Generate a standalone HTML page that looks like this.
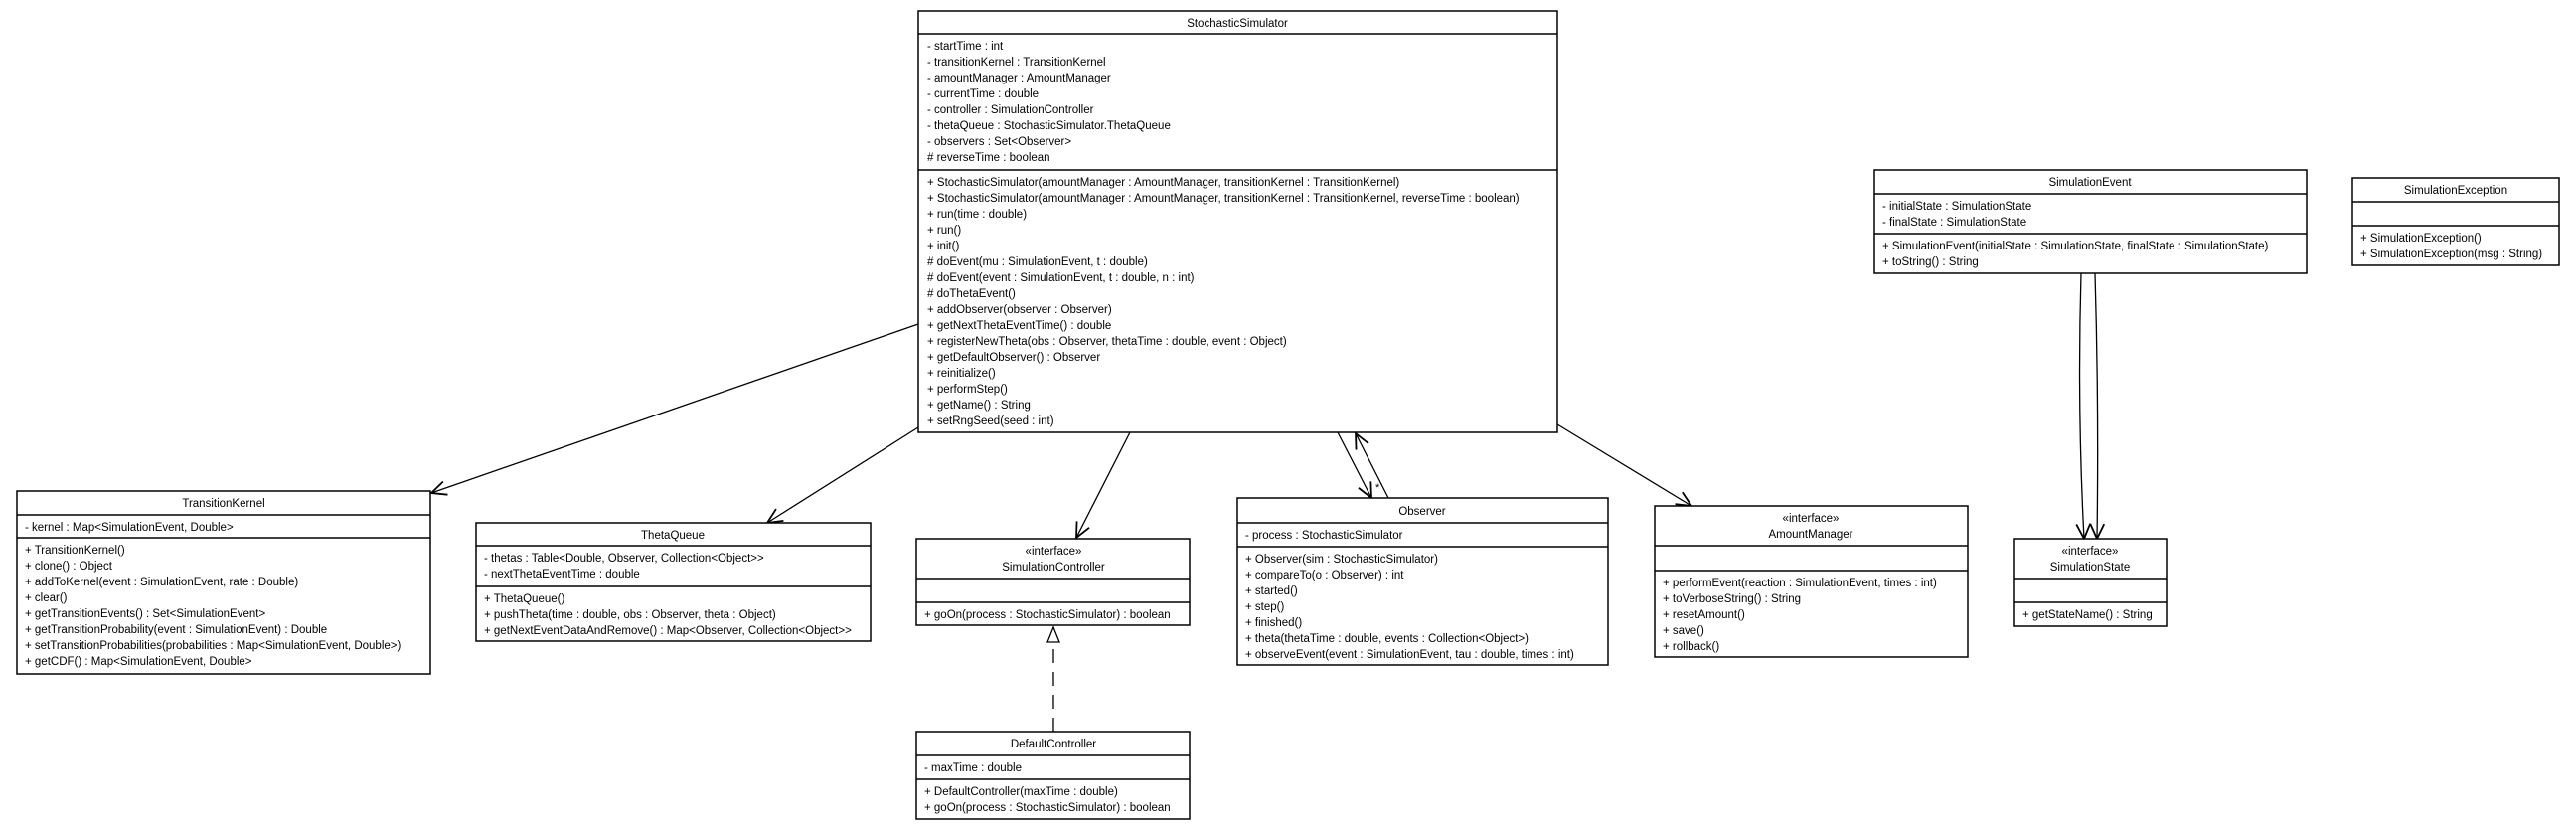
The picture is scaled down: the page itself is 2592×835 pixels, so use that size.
<!DOCTYPE html>
<html><head><meta charset="utf-8"><style>
html,body{margin:0;padding:0;background:#fff;}
svg{display:block;}
text{font-family:"Liberation Sans",sans-serif;font-size:11.5px;fill:#000;}
.c{text-anchor:middle;}
rect{fill:#fff;stroke:#000;stroke-width:1.5;}
line.s{stroke:#000;stroke-width:1.5;}
.e{stroke:#000;stroke-width:1.3;fill:none;}
</style></head><body>
<svg width="2592" height="835" viewBox="0 0 2592 835" xmlns="http://www.w3.org/2000/svg">
<defs>
<marker id="a" markerUnits="userSpaceOnUse" markerWidth="20" markerHeight="20" refX="16" refY="8" orient="auto">
<path d="M1,1 L16,8 L1,15" fill="none" stroke="#000" stroke-width="1.8"/>
</marker>
<marker id="t" markerUnits="userSpaceOnUse" markerWidth="20" markerHeight="20" refX="16" refY="8" orient="auto">
<path d="M1,2 L16,8 L1,14 Z" fill="#fff" stroke="#000" stroke-width="1.3"/>
</marker>
</defs>

<line class="e" x1="924" y1="326" x2="434" y2="496" marker-end="url(#a)"/>
<line class="e" x1="924" y1="430" x2="772" y2="526" marker-end="url(#a)"/>
<line class="e" x1="1137" y1="435" x2="1083" y2="541" marker-end="url(#a)"/>
<line class="e" x1="1346" y1="435" x2="1380" y2="501" marker-end="url(#a)"/>
<text x="1384" y="494" style="font-size:11px">*</text>
<line class="e" x1="1397" y1="501" x2="1364" y2="436" marker-end="url(#a)"/>
<line class="e" x1="1567" y1="427" x2="1702" y2="509" marker-end="url(#a)"/>
<path class="e" d="M2094,275 Q2090,410 2097,542" marker-end="url(#a)"/>
<path class="e" d="M2108,275 Q2112,410 2110,542" marker-end="url(#a)"/>
<line class="e" x1="1060" y1="736" x2="1060" y2="631" stroke-dasharray="14,9" marker-end="url(#t)"/>

<rect x="924" y="11" width="643" height="424"/>
<line class="s" x1="924" y1="34" x2="1567" y2="34"/>
<line class="s" x1="924" y1="171" x2="1567" y2="171"/>
<text class="c" x="1245" y="27">StochasticSimulator</text>
<text x="933" y="50">- startTime : int</text>
<text x="933" y="66">- transitionKernel : TransitionKernel</text>
<text x="933" y="82">- amountManager : AmountManager</text>
<text x="933" y="98">- currentTime : double</text>
<text x="933" y="114">- controller : SimulationController</text>
<text x="933" y="130">- thetaQueue : StochasticSimulator.ThetaQueue</text>
<text x="933" y="146">- observers : Set&lt;Observer&gt;</text>
<text x="933" y="162"># reverseTime : boolean</text>
<text x="933" y="187">+ StochasticSimulator(amountManager : AmountManager, transitionKernel : TransitionKernel)</text>
<text x="933" y="203">+ StochasticSimulator(amountManager : AmountManager, transitionKernel : TransitionKernel, reverseTime : boolean)</text>
<text x="933" y="219">+ run(time : double)</text>
<text x="933" y="235">+ run()</text>
<text x="933" y="251">+ init()</text>
<text x="933" y="267"># doEvent(mu : SimulationEvent, t : double)</text>
<text x="933" y="283"># doEvent(event : SimulationEvent, t : double, n : int)</text>
<text x="933" y="299"># doThetaEvent()</text>
<text x="933" y="315">+ addObserver(observer : Observer)</text>
<text x="933" y="331">+ getNextThetaEventTime() : double</text>
<text x="933" y="347">+ registerNewTheta(obs : Observer, thetaTime : double, event : Object)</text>
<text x="933" y="363">+ getDefaultObserver() : Observer</text>
<text x="933" y="379">+ reinitialize()</text>
<text x="933" y="395">+ performStep()</text>
<text x="933" y="411">+ getName() : String</text>
<text x="933" y="427">+ setRngSeed(seed : int)</text>

<rect x="17" y="494" width="416" height="184"/>
<line class="s" x1="17" y1="518" x2="433" y2="518"/>
<line class="s" x1="17" y1="541" x2="433" y2="541"/>
<text class="c" x="225" y="510">TransitionKernel</text>
<text x="25" y="534">- kernel : Map&lt;SimulationEvent, Double&gt;</text>
<text x="25" y="557">+ TransitionKernel()</text>
<text x="25" y="573">+ clone() : Object</text>
<text x="25" y="589">+ addToKernel(event : SimulationEvent, rate : Double)</text>
<text x="25" y="605">+ clear()</text>
<text x="25" y="621">+ getTransitionEvents() : Set&lt;SimulationEvent&gt;</text>
<text x="25" y="637">+ getTransitionProbability(event : SimulationEvent) : Double</text>
<text x="25" y="653">+ setTransitionProbabilities(probabilities : Map&lt;SimulationEvent, Double&gt;)</text>
<text x="25" y="669">+ getCDF() : Map&lt;SimulationEvent, Double&gt;</text>

<rect x="479" y="526" width="397" height="119"/>
<line class="s" x1="479" y1="549" x2="876" y2="549"/>
<line class="s" x1="479" y1="590" x2="876" y2="590"/>
<text class="c" x="677" y="542">ThetaQueue</text>
<text x="487" y="565">- thetas : Table&lt;Double, Observer, Collection&lt;Object&gt;&gt;</text>
<text x="487" y="581">- nextThetaEventTime : double</text>
<text x="487" y="606">+ ThetaQueue()</text>
<text x="487" y="622">+ pushTheta(time : double, obs : Observer, theta : Object)</text>
<text x="487" y="638">+ getNextEventDataAndRemove() : Map&lt;Observer, Collection&lt;Object&gt;&gt;</text>

<rect x="922" y="542" width="275" height="87"/>
<line class="s" x1="922" y1="582" x2="1197" y2="582"/>
<line class="s" x1="922" y1="606" x2="1197" y2="606"/>
<text class="c" x="1060" y="558">«interface»</text>
<text class="c" x="1060" y="574">SimulationController</text>
<text x="930" y="622">+ goOn(process : StochasticSimulator) : boolean</text>

<rect x="922" y="736" width="275" height="88"/>
<line class="s" x1="922" y1="760" x2="1197" y2="760"/>
<line class="s" x1="922" y1="784" x2="1197" y2="784"/>
<text class="c" x="1060" y="752">DefaultController</text>
<text x="930" y="776">- maxTime : double</text>
<text x="930" y="800">+ DefaultController(maxTime : double)</text>
<text x="930" y="816">+ goOn(process : StochasticSimulator) : boolean</text>

<rect x="1245" y="501" width="373" height="168"/>
<line class="s" x1="1245" y1="526" x2="1618" y2="526"/>
<line class="s" x1="1245" y1="550" x2="1618" y2="550"/>
<text class="c" x="1431" y="518">Observer</text>
<text x="1253" y="542">- process : StochasticSimulator</text>
<text x="1253" y="566">+ Observer(sim : StochasticSimulator)</text>
<text x="1253" y="582">+ compareTo(o : Observer) : int</text>
<text x="1253" y="598">+ started()</text>
<text x="1253" y="614">+ step()</text>
<text x="1253" y="630">+ finished()</text>
<text x="1253" y="646">+ theta(thetaTime : double, events : Collection&lt;Object&gt;)</text>
<text x="1253" y="662">+ observeEvent(event : SimulationEvent, tau : double, times : int)</text>

<rect x="1665" y="509" width="315" height="152"/>
<line class="s" x1="1665" y1="549" x2="1980" y2="549"/>
<line class="s" x1="1665" y1="574" x2="1980" y2="574"/>
<text class="c" x="1822" y="525">«interface»</text>
<text class="c" x="1822" y="541">AmountManager</text>
<text x="1673" y="590">+ performEvent(reaction : SimulationEvent, times : int)</text>
<text x="1673" y="606">+ toVerboseString() : String</text>
<text x="1673" y="622">+ resetAmount()</text>
<text x="1673" y="638">+ save()</text>
<text x="1673" y="654">+ rollback()</text>

<rect x="1886" y="171" width="435" height="104"/>
<line class="s" x1="1886" y1="195" x2="2321" y2="195"/>
<line class="s" x1="1886" y1="235" x2="2321" y2="235"/>
<text class="c" x="2103" y="187">SimulationEvent</text>
<text x="1894" y="211">- initialState : SimulationState</text>
<text x="1894" y="227">- finalState : SimulationState</text>
<text x="1894" y="251">+ SimulationEvent(initialState : SimulationState, finalState : SimulationState)</text>
<text x="1894" y="267">+ toString() : String</text>

<rect x="2367" y="179" width="208" height="88"/>
<line class="s" x1="2367" y1="203" x2="2575" y2="203"/>
<line class="s" x1="2367" y1="227" x2="2575" y2="227"/>
<text class="c" x="2471" y="195">SimulationException</text>
<text x="2375" y="243">+ SimulationException()</text>
<text x="2375" y="259">+ SimulationException(msg : String)</text>

<rect x="2027" y="542" width="153" height="88"/>
<line class="s" x1="2027" y1="582" x2="2180" y2="582"/>
<line class="s" x1="2027" y1="606" x2="2180" y2="606"/>
<text class="c" x="2103" y="558">«interface»</text>
<text class="c" x="2103" y="574">SimulationState</text>
<text x="2035" y="622">+ getStateName() : String</text>
</svg>
</body></html>
